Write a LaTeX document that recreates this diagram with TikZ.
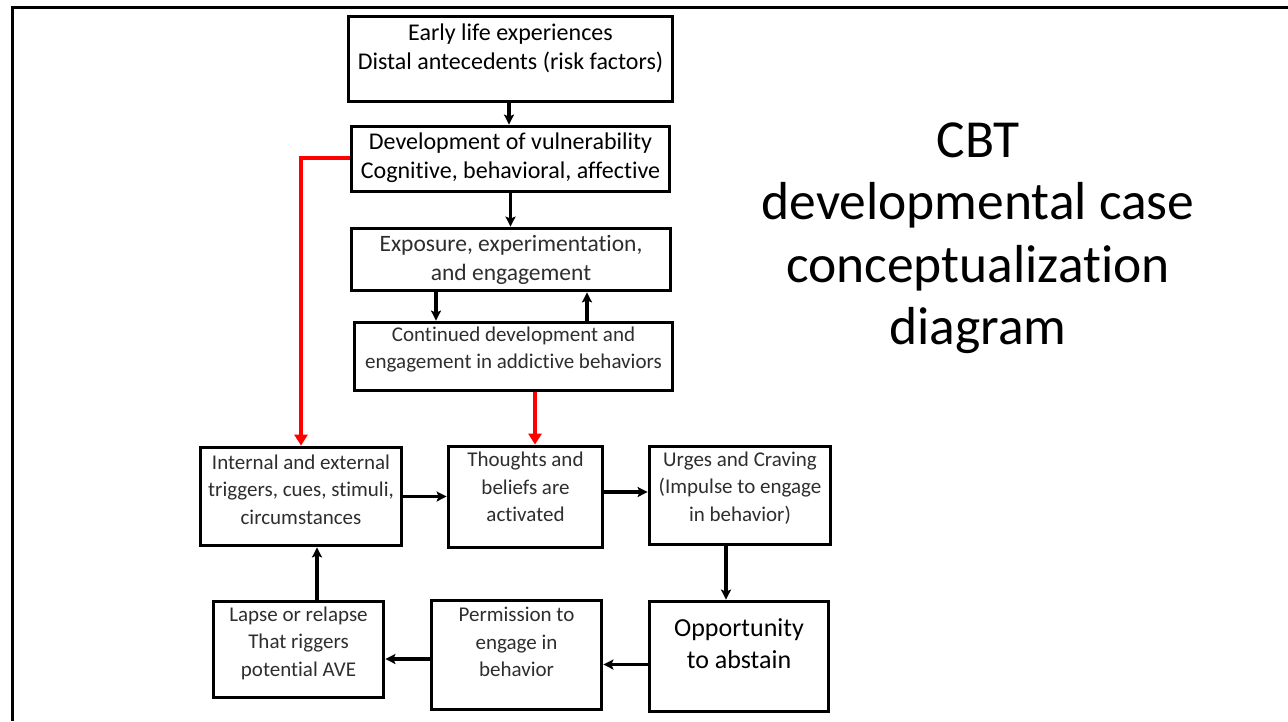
\documentclass[tikz,border=0pt]{standalone}
\usepackage{fontspec}
\setmainfont{Carlito}[Ligatures=NoCommon]
\usetikzlibrary{arrows.meta}
\begin{document}
\begin{tikzpicture}[x=1pt,y=-1pt,
  box/.style={draw, line width=3.8pt, inner sep=0pt, fill=white},
  txt/.style={align=center, inner sep=0pt, text=black},
  light/.style={text=black!82},
  reg/.style={font=\fontsize{24}{29}\selectfont},
  sml/.style={font=\fontsize{21}{27.5}\selectfont},
  ttl/.style={txt, anchor=base, font=\fontsize{53.5}{62.5}\selectfont},
  arr/.style={line width=3.4pt, -{Stealth[length=10pt,width=10pt,inset=2pt]}},
  redarr/.style={line width=3.2pt, red, -{Triangle[length=11pt,width=13pt]}}]
\useasboundingbox (0,0) rectangle (1288,721);
% frame
\draw[line width=2.5pt] (12.5,721) -- (12.5,7.5) -- (1288,7.5);
% boxes
\node[box, minimum width=324, minimum height=85] (early) at (510.5,59) {};
\node[box, minimum width=318, minimum height=65] (dev) at (510.5,159) {};
\node[box, minimum width=319, minimum height=62] (expo) at (511,259.5) {};
\node[box, minimum width=318, minimum height=68] (cont) at (513.5,356.5) {};
\node[box, minimum width=201, minimum height=98] (intl) at (301,496.5) {};
\node[box, minimum width=154, minimum height=101] (thou) at (525.5,497) {};
\node[box, minimum width=181, minimum height=98] (urge) at (740,495.5) {};
\node[box, minimum width=170, minimum height=96] (laps) at (298.5,649.5) {};
\node[box, minimum width=170, minimum height=109] (perm) at (516.5,655) {};
\node[box, minimum width=179, minimum height=110] (opp) at (739,656.5) {};
% texts
\node[txt, reg] (earlyT) at (510.5,48.5) {Early life experiences\\Distal antecedents (risk factors)};
\node[txt, reg] (devT) at (510.5,157.5) {Development of vulnerability\\Cognitive, behavioral, affective};
\node[txt, light, font=\fontsize{23.5}{29}\selectfont] (expoT) at (511,259.5) {Exposure, experimentation,\\and engagement};
\node[txt, light, font=\fontsize{21}{27}\selectfont] (contT) at (513.5,349.5) {Continued development and\\engagement in addictive behaviors};
\node[txt, sml, light] (intlT) at (301,489.5) {Internal and external\\triggers, cues, stimuli,\\circumstances};
\node[txt, sml, light] (thouT) at (525.5,487) {Thoughts and\\beliefs are\\activated};
\node[txt, sml, light] (urgeT) at (740,488) {Urges and Craving\\(Impulse to engage\\in behavior)};
\node[txt, sml, light] (lapsT) at (298.5,643) {Lapse or relapse\\That riggers\\potential AVE};
\node[txt, sml, light] (permT) at (516.5,642) {Permission to\\engage in\\behavior};
\node[txt, font=\fontsize{26}{32}\selectfont] (oppT) at (739,644) {Opportunity\\to abstain};
% title
\node[ttl] (title) at (978,157) {CBT};
\node[ttl] (title2) at (978,219.5) {developmental case};
\node[ttl] (title3) at (978,282) {conceptualization};
\node[ttl] (title4) at (978,344.5) {diagram};
% connectors
\draw[arr] ([xshift=-1.5]early.south) -- ([xshift=-1.5]dev.north);
\draw[arr] (dev.south) -- (dev.south |- expo.north);
\draw[arr] ([xshift=-75]expo.south) -- ([xshift=-75]expo.south |- cont.north);
\draw[arr] ([xshift=76]expo.south |- cont.north) -- ([xshift=76]expo.south);
\draw[redarr] ([yshift=1]dev.west) -| (intl.north);
\draw[redarr] ([xshift=21.5]cont.south) -- ([xshift=21.5]cont.south |- thou.north);
\draw[arr] (intl.east) -- (intl.east -| thou.west);
\draw[arr] ([yshift=5]thou.east) -- ([yshift=5]thou.east -| urge.west);
\draw[arr] ([xshift=-14]urge.south) -- ([xshift=-14]urge.south |- opp.north);
\draw[arr] ([yshift=-8]opp.west) -- ([yshift=-8]opp.west -| perm.east);
\draw[arr] ([yshift=-4]perm.west) -- ([yshift=-4]perm.west -| laps.east);
\draw[arr] ([xshift=18.5]laps.north) -- ([xshift=18.5]laps.north |- intl.south);
\end{tikzpicture}
\end{document}
